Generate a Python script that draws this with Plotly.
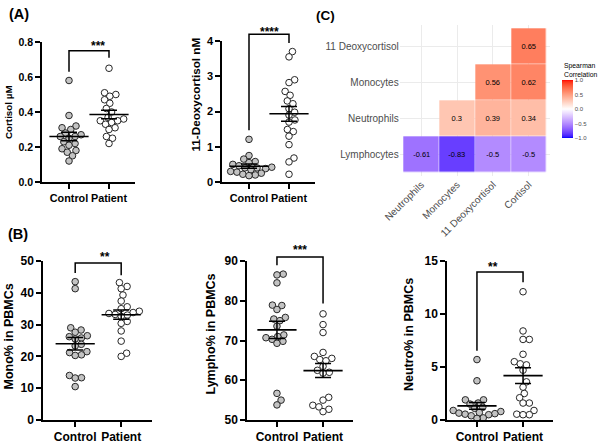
import math
import numpy as np
import plotly.graph_objects as go

W, H = 600, 443
FONT = "Liberation Sans, Arial, sans-serif"

# ---------------- data ----------------
groups = ["Control", "Patient"]

cortisol_control = [0.58, 0.38, 0.32, 0.31, 0.30, 0.28, 0.27, 0.26, 0.26, 0.25, 0.23, 0.22, 0.21, 0.19, 0.18, 0.17, 0.15, 0.12]
cortisol_patient = [0.65, 0.51, 0.50, 0.49, 0.47, 0.45, 0.42, 0.40, 0.37, 0.36, 0.35, 0.35, 0.34, 0.33, 0.31, 0.30, 0.26, 0.25, 0.22]

deoxy_control = [1.21, 0.75, 0.65, 0.58, 0.55, 0.50, 0.46, 0.42, 0.40, 0.40, 0.38, 0.35, 0.30, 0.28, 0.25, 0.22, 0.20, 0.18]
deoxy_patient = [3.70, 3.55, 2.90, 2.82, 2.57, 2.46, 2.30, 2.22, 2.08, 1.98, 1.90, 1.76, 1.70, 1.49, 1.43, 1.30, 1.06, 0.68, 0.57, 0.22]

mono_control = [43.5, 41.3, 29.0, 28.3, 27.6, 26.5, 26.2, 25.8, 25.5, 23.8, 23.3, 21.5, 21.2, 20.5, 20.3, 14.0, 13.3, 13.2, 10.5]
mono_patient = [43.2, 42.0, 41.3, 39.3, 37.4, 35.6, 35.0, 34.2, 33.8, 33.5, 33.2, 33.0, 32.6, 31.0, 30.4, 28.0, 24.8, 21.0, 20.0]

lympho_control = [86.7, 86.5, 84.5, 78.9, 78.8, 77.8, 75.8, 75.4, 75.0, 73.6, 71.4, 71.0, 70.7, 70.3, 69.8, 69.3, 56.7, 55.0, 53.8]
lympho_patient = [76.7, 74.0, 72.0, 67.0, 66.0, 65.5, 65.2, 64.9, 63.5, 62.5, 62.0, 61.8, 55.7, 55.0, 53.7, 53.3, 52.7, 52.1]

neutro_control = [5.7, 3.7, 1.9, 1.9, 1.6, 1.5, 1.2, 1.1, 0.9, 0.8, 0.7, 0.65, 0.6, 0.55, 0.5, 0.4, 0.2, 0.15]
neutro_patient = [12.1, 8.4, 7.6, 7.6, 6.2, 5.5, 5.3, 5.2, 4.7, 3.6, 3.1, 2.5, 2.1, 1.6, 1.6, 0.9, 0.55, 0.5, 0.5]

y_titles = ["Cortisol µM", "11-Deoxycortisol nM", "Mono% in PBMCs", "Lympho% in PBMCs", "Neutro% in PBMCs"]
sig_labels = ["***", "****", "**", "***", "**"]
# bracket: top, left leg bottom, right leg bottom, star level (data units)
bracket_top = [0.75, 4.19, 49.4, 91.0, 13.96]
bracket_left = [0.63, 1.47, 46.2, 88.9, 6.53]
bracket_right = [0.71, 3.94, 45.5, 79.3, 13.0]
star_level = [0.794, 4.35, 52.3, 93.5, 14.75]

heat_cols = ["Neutrophils", "Monocytes", "11 Deoxycortisol", "Cortisol"]
heat_rows = ["Lymphocytes", "Neutrophils", "Monocytes", "11 Deoxycortisol"]
heat_z = [
    [-0.61, -0.83, -0.5, -0.5],
    [None, 0.3, 0.39, 0.34],
    [None, None, 0.56, 0.62],
    [None, None, None, 0.65],
]
cbar_ticks = [-1.0, -0.5, 0.0, 0.5, 1.0]

# ---------------- layout of the prism panels ----------------
def px(x):
    return x / W

def py(y):
    return 1 - y / H

panels = [
    dict(ctrl=cortisol_control, pat=cortisol_patient,
         xd=[px(42), px(135)], yd=[py(182), py(42)], xr=[-0.675, 1.65], yr=[0, 0.8],
         ticks=[0, 0.2, 0.4, 0.6, 0.8], fmt=".1f", tfs=10.5, xfs=10.8,
         title_pos=(8, 112), title_fs=9.8),
    dict(ctrl=deoxy_control, pat=deoxy_patient,
         xd=[px(222), px(315)], yd=[py(182), py(41)], xr=[-0.675, 1.65], yr=[0, 4],
         ticks=[0, 1, 2, 3, 4], fmt="d", tfs=11, xfs=10.8,
         title_pos=(195, 94.5), title_fs=11.7),
    dict(ctrl=mono_control, pat=mono_patient,
         xd=[px(43), px(152)], yd=[py(420), py(261)], xr=[-0.70, 1.67], yr=[0, 50],
         ticks=[0, 10, 20, 30, 40, 50], fmt="d", tfs=12, xfs=12,
         title_pos=(8, 336.5), title_fs=12.5),
    dict(ctrl=lympho_control, pat=lympho_patient,
         xd=[px(247), px(353)], yd=[py(420), py(261)], xr=[-0.65, 1.65], yr=[50, 90],
         ticks=[50, 60, 70, 80, 90], fmt="d", tfs=12, xfs=12,
         title_pos=(210, 334.5), title_fs=12.5),
    dict(ctrl=neutro_control, pat=neutro_patient,
         xd=[px(447), px(553)], yd=[py(420), py(261)], xr=[-0.65, 1.65], yr=[0, 15],
         ticks=[0, 5, 10, 15], fmt="d", tfs=12, xfs=12,
         title_pos=(409, 335), title_fs=12.5),
]


def swarm(vals, ppy, ppx, D=6.3):
    vals = np.asarray(vals, float)
    order = np.argsort(vals)
    placed = []
    offs = np.zeros(len(vals))
    for i in order:
        y = vals[i] * ppy
        cands = [0.0]
        for (qx, qy) in placed:
            dy = y - qy
            if abs(dy) < D:
                dx = math.sqrt(D * D - dy * dy)
                cands += [qx + dx, qx - dx]
        cands.sort(key=lambda c: (abs(c), -c))
        chosen = 0.0
        for c in cands:
            if all((c - qx) ** 2 + (y - qy) ** 2 >= D * D - 1e-6 for qx, qy in placed):
                chosen = c
                break
        placed.append((chosen, y))
        offs[i] = chosen / ppx
    return offs


def to_paper(v, dom, rng):
    return dom[0] + (v - rng[0]) / (rng[1] - rng[0]) * (dom[1] - dom[0])


fig = go.Figure()
layout = dict(width=W, height=H, margin=dict(l=0, r=0, t=0, b=0, autoexpand=False),
              paper_bgcolor="white", plot_bgcolor="white", showlegend=False,
              font=dict(family=FONT))
shapes = []
annotations = []

for k, p in enumerate(panels):
    n = k + 1
    xa = "x" if n == 1 else f"x{n}"
    ya = "y" if n == 1 else f"y{n}"
    wpx = (p["xd"][1] - p["xd"][0]) * W
    hpx = (p["yd"][1] - p["yd"][0]) * H
    ppx = wpx / (p["xr"][1] - p["xr"][0])
    ppy = hpx / (p["yr"][1] - p["yr"][0])

    for gi, (vals, fill) in enumerate([(p["ctrl"], "#c3c3c3"), (p["pat"], "white")]):
        offs = swarm(vals, ppy, ppx)
        fig.add_trace(go.Scatter(
            x=gi + offs, y=vals, mode="markers", xaxis=xa, yaxis=ya,
            marker=dict(size=6.6, color=fill, line=dict(color="#262626", width=1)),
            cliponaxis=False, hoverinfo="skip"))

    means = [float(np.mean(p["ctrl"])), float(np.mean(p["pat"]))]
    sems = [float(np.std(p["ctrl"], ddof=1) / math.sqrt(len(p["ctrl"]))),
            float(np.std(p["pat"], ddof=1) / math.sqrt(len(p["pat"])))]
    fig.add_trace(go.Scatter(
        x=[0, 1], y=means, mode="markers", xaxis=xa, yaxis=ya,
        marker=dict(symbol="line-ew", size=28, color="black",
                    line=dict(color="black", width=1.6)),
        error_y=dict(type="data", array=sems, width=8, thickness=1.5, color="black"),
        cliponaxis=False, hoverinfo="skip"))

    layout["xaxis" if n == 1 else f"xaxis{n}"] = dict(
        domain=p["xd"], range=p["xr"], anchor=ya, showline=True, linecolor="black",
        linewidth=1.5, ticks="outside", ticklen=5, tickwidth=1.5, tickcolor="black",
        tickvals=[0, 1], ticktext=groups, tickangle=0, showgrid=False, zeroline=False,
        automargin=False, fixedrange=True,
        tickfont=dict(family=FONT, size=p["xfs"], color="black", weight="bold"))
    layout["yaxis" if n == 1 else f"yaxis{n}"] = dict(
        domain=p["yd"], range=p["yr"], anchor=xa, showline=True, linecolor="black",
        linewidth=1.5, ticks="outside", ticklen=5, tickwidth=1.5, tickcolor="black",
        tickvals=p["ticks"], tickformat=p["fmt"], showgrid=False, zeroline=False,
        automargin=False, fixedrange=True,
        tickfont=dict(family=FONT, size=p["tfs"], color="black", weight="bold"))

    # significance bracket
    x0 = to_paper(0, p["xd"], p["xr"])
    x1 = to_paper(1, p["xd"], p["xr"])
    yt = to_paper(bracket_top[k], p["yd"], p["yr"])
    yl = to_paper(bracket_left[k], p["yd"], p["yr"])
    yr_ = to_paper(bracket_right[k], p["yd"], p["yr"])
    shapes.append(dict(type="path", xref="paper", yref="paper",
                       path=f"M {x0},{yl} L {x0},{yt} L {x1},{yt} L {x1},{yr_}",
                       line=dict(color="black", width=1.5)))
    annotations.append(dict(xref="paper", yref="paper", x=(x0 + x1) / 2,
                            y=to_paper(star_level[k], p["yd"], p["yr"]),
                            text=sig_labels[k], showarrow=False, yanchor="middle",
                            yshift=-3,
                            font=dict(family=FONT, size=12, color="black", weight="bold")))
    tx, ty = p["title_pos"]
    annotations.append(dict(xref="paper", yref="paper", x=px(tx), y=py(ty),
                            text=y_titles[k], textangle=-90, showarrow=False,
                            xanchor="center", yanchor="middle",
                            font=dict(family=FONT, size=p["title_fs"], color="black", weight="bold")))

# panel labels
for lab, (lx, ly, fs) in zip(["(A)", "(B)", "(C)"], [(19, 14, 14.5), (18, 234, 14.5), (325, 15.5, 13.5)]):
    annotations.append(dict(xref="paper", yref="paper", x=px(lx), y=py(ly), text=lab,
                            showarrow=False, xanchor="center", yanchor="middle",
                            font=dict(family=FONT, size=fs, color="black", weight="bold")))

# ---------------- heatmap (C) ----------------
def srgb_to_lab(rgb):
    def lin(c):
        c = c / 255.0
        return c / 12.92 if c <= 0.04045 else ((c + 0.055) / 1.055) ** 2.4
    r, g, b = [lin(c) for c in rgb]
    X = 0.4124 * r + 0.3576 * g + 0.1805 * b
    Y = 0.2126 * r + 0.7152 * g + 0.0722 * b
    Z = 0.0193 * r + 0.1192 * g + 0.9505 * b
    Xn, Yn, Zn = 0.95047, 1.0, 1.08883
    def f(t):
        return t ** (1 / 3) if t > (6 / 29) ** 3 else t / (3 * (6 / 29) ** 2) + 4 / 29
    fx, fy, fz = f(X / Xn), f(Y / Yn), f(Z / Zn)
    return (116 * fy - 16, 500 * (fx - fy), 200 * (fy - fz))


def lab_to_srgb(lab):
    L, a, b = lab
    fy = (L + 16) / 116
    fx = fy + a / 500
    fz = fy - b / 200
    def finv(t):
        return t ** 3 if t > 6 / 29 else 3 * (6 / 29) ** 2 * (t - 4 / 29)
    Xn, Yn, Zn = 0.95047, 1.0, 1.08883
    X, Y, Z = Xn * finv(fx), Yn * finv(fy), Zn * finv(fz)
    r = 3.2406 * X - 1.5372 * Y - 0.4986 * Z
    g = -0.9689 * X + 1.8758 * Y + 0.0415 * Z
    bb = 0.0557 * X - 0.2040 * Y + 1.0570 * Z
    def gam(c):
        c = 12.92 * c if c <= 0.0031308 else 1.055 * c ** (1 / 2.4) - 0.055
        return int(round(min(max(c, 0), 1) * 255))
    return f"rgb({gam(r)},{gam(g)},{gam(bb)})"


lab_low = srgb_to_lab((0, 0, 255))
lab_mid = srgb_to_lab((255, 255, 255))
lab_high = srgb_to_lab((255, 0, 0))
colorscale = []
for t in np.linspace(0, 1, 41):
    v = 2 * t - 1
    if v < 0:
        s = -v
        lab = tuple(lab_mid[i] + s * (lab_low[i] - lab_mid[i]) for i in range(3))
    else:
        lab = tuple(lab_mid[i] + v * (lab_high[i] - lab_mid[i]) for i in range(3))
    colorscale.append([float(t), lab_to_srgb(lab)])

heat_text = [["" if v is None else f"{v:g}" for v in row] for row in heat_z]

fig.add_trace(go.Heatmap(
    x=heat_cols, y=heat_rows, z=heat_z, text=heat_text, texttemplate="%{text}",
    textfont=dict(family=FONT, size=7.5, color="black"),
    colorscale=colorscale, zmin=-1, zmax=1, xaxis="x6", yaxis="y6",
    hoverinfo="skip", xgap=0.5, ygap=0.5,
    colorbar=dict(x=px(561.7), xanchor="left", xpad=0, ypad=0,
                  y=py(109.2), yanchor="middle", len=58.3, lenmode="pixels",
                  thickness=10.5, thicknessmode="pixels", outlinewidth=0,
                  tickvals=cbar_ticks, ticktext=[f"{t:.1f}".replace("-", "−") for t in cbar_ticks],
                  ticks="", tickfont=dict(family=FONT, size=6, color="#4d4d4d"))))

layout["xaxis6"] = dict(domain=[px(399.7), px(550.3)], anchor="y6", type="category",
                        categoryorder="array", categoryarray=heat_cols, range=[-0.6, 3.6],
                        showgrid=True, gridcolor="#ebebeb", gridwidth=1, zeroline=False,
                        showline=False, ticks="", tickangle=-45, automargin=False,
                        fixedrange=True,
                        tickfont=dict(family=FONT, size=10, color="#4d4d4d"))
layout["yaxis6"] = dict(domain=[py(176), py(24.7)], anchor="x6", type="category",
                        categoryorder="array", categoryarray=heat_rows, range=[-0.6, 3.6],
                        showgrid=True, gridcolor="#ebebeb", gridwidth=1, zeroline=False,
                        showline=False, ticks="", automargin=False, fixedrange=True,
                        tickfont=dict(family=FONT, size=10, color="#4d4d4d"))

annotations.append(dict(xref="paper", yref="paper", x=px(561.5), y=py(59.5), xanchor="left",
                        yanchor="top", align="left", showarrow=False,
                        text="Spearman<br>Correlation",
                        font=dict(family=FONT, size=6.8, color="black")))

layout["shapes"] = shapes
layout["annotations"] = annotations
fig.update_layout(**layout)
fig.write_html("out.html", config={"displayModeBar": False},
               post_script="document.body.style.margin='0px';document.body.style.padding='0px';")
